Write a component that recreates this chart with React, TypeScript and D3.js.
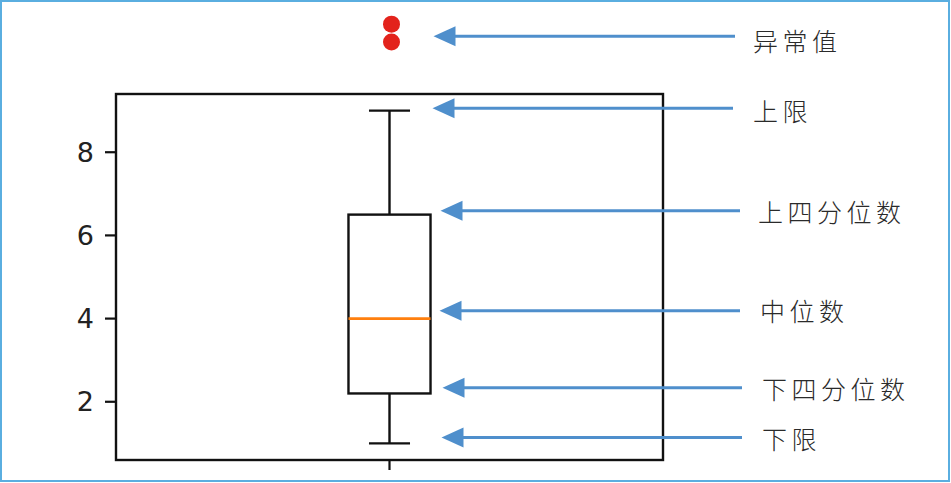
import React from "react";
import * as d3 from "d3";

// box stats (matplotlib-style single box)
const boxPosition = 1;
const whiskerLow = 1;
const q1 = 2.2;
const median = 4;
const q3 = 6.5;
const whiskerHigh = 9;
const outliers = [10.65, 11.08];

const yTicks = [2, 4, 6, 8];

// annotation labels and the value each arrow points at
const labels = ["异常值", "上限", "上四分位数", "中位数", "下四分位数", "下限"];
const arrowValues = [10.79, 9.06, 6.59, 4.19, 2.34, 1.14];
const labelValues = [10.7, 9.01, 6.59, 4.21, 2.33, 1.12];

const W = 951;
const H = 483;
const plot = { left: 116, right: 663, top: 94, bottom: 460 };

// small per-arrow nudges (layout only)
const tipNudge = [0, -1, 7, 6, 9, 8];
const tailNudge = [-4, -6, 1, 1, 3, 3];
const labelNudge = [-6, -6, -1, 1, 3, 3];

const BLUE = "#4f8fcc";

const App: React.FC = () => {
  const x = d3.scaleLinear().domain([0.5, 1.5]).range([plot.left, plot.right]);
  const y = d3
    .scaleLinear()
    .domain([0.6, 9.4])
    .range([plot.bottom, plot.top]);

  const cx = x(boxPosition);
  const boxHalf = (x(0.15) - x(0)) / 2;
  const capHalf = boxHalf / 2;

  const tipBase = cx + boxHalf + 3;
  const tailBase = 739;
  const labelBase = 759;

  return (
    <div style={{ position: "absolute", left: 0, top: 0 }}>
      <svg width={W} height={H} style={{ display: "block" }}>
        <rect x={0} y={0} width={W} height={H} fill="#fff" />
        <rect
          x={1}
          y={1}
          width={W - 3}
          height={H - 3}
          fill="none"
          stroke="#5aaee0"
          strokeWidth={2}
        />

        {/* axes frame */}
        <rect
          x={plot.left}
          y={plot.top}
          width={plot.right - plot.left}
          height={plot.bottom - plot.top}
          fill="none"
          stroke="#111"
          strokeWidth={2.4}
        />

        {/* y ticks */}
        {yTicks.map((t) => (
          <g key={t}>
            <line
              x1={plot.left - 11}
              x2={plot.left}
              y1={y(t)}
              y2={y(t)}
              stroke="#111"
              strokeWidth={2.2}
            />
            <text
              x={plot.left - 22}
              y={y(t)}
              textAnchor="end"
              dominantBaseline="central"
              fontFamily="DejaVu Sans"
              fontSize={27}
              fill="#222"
            >
              {t}
            </text>
          </g>
        ))}

        {/* x tick */}
        <line
          x1={cx}
          x2={cx}
          y1={plot.bottom}
          y2={plot.bottom + 10}
          stroke="#111"
          strokeWidth={2.2}
        />

        {/* whiskers */}
        <line x1={cx} x2={cx} y1={y(q3)} y2={y(whiskerHigh)} stroke="#111" strokeWidth={2.4} />
        <line x1={cx} x2={cx} y1={y(q1)} y2={y(whiskerLow)} stroke="#111" strokeWidth={2.4} />
        <line
          x1={cx - capHalf}
          x2={cx + capHalf}
          y1={y(whiskerHigh)}
          y2={y(whiskerHigh)}
          stroke="#111"
          strokeWidth={2.4}
        />
        <line
          x1={cx - capHalf}
          x2={cx + capHalf}
          y1={y(whiskerLow)}
          y2={y(whiskerLow)}
          stroke="#111"
          strokeWidth={2.4}
        />

        {/* box */}
        <rect
          x={cx - boxHalf}
          y={y(q3)}
          width={boxHalf * 2}
          height={y(q1) - y(q3)}
          fill="none"
          stroke="#111"
          strokeWidth={2.4}
        />
        <line
          x1={cx - boxHalf}
          x2={cx + boxHalf}
          y1={y(median)}
          y2={y(median)}
          stroke="#ff7f0e"
          strokeWidth={2.6}
        />

        {/* outliers */}
        {outliers.map((v, i) => (
          <circle key={i} cx={cx + 2} cy={y(v)} r={8.5} fill="#e3231c" />
        ))}

        {/* arrows + labels */}
        {labels.map((lab, i) => {
          const ay = y(arrowValues[i]);
          const tip = tipBase + tipNudge[i];
          const tail = tailBase + tailNudge[i];
          return (
            <g key={lab}>
              <line
                x1={tip + 18}
                x2={tail}
                y1={ay}
                y2={ay}
                stroke={BLUE}
                strokeWidth={3}
              />
              <path
                d={`M${tip},${ay} L${tip + 22},${ay - 10} L${tip + 22},${ay + 10} Z`}
                fill={BLUE}
              />
              <text
                x={labelBase + labelNudge[i]}
                y={y(labelValues[i])}
                dominantBaseline="central"
                fontFamily="Noto Sans CJK SC"
                fontSize={25}
                fontWeight={300}
                letterSpacing={4.5}
                fill="#2a2a2a"
              >
                {lab}
              </text>
            </g>
          );
        })}
      </svg>
    </div>
  );
};

export default App;
